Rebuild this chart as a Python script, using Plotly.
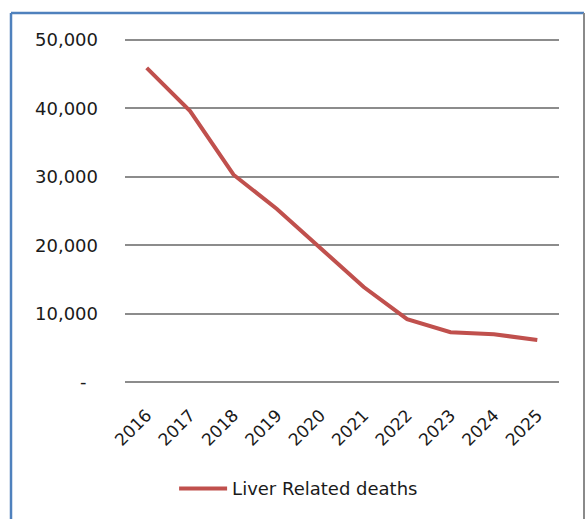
import plotly.graph_objects as go

# Projected liver related deaths per year
years = ["2016", "2017", "2018", "2019", "2020", "2021", "2022", "2023", "2024", "2025"]
deaths = [45900, 39600, 30300, 25300, 19600, 13900, 9200, 7300, 7000, 6150]

y_tick_vals = [0, 10000, 20000, 30000, 40000, 50000]
y_tick_text = ["-\u00a0\u00a0", "10,000", "20,000", "30,000", "40,000", "50,000"]

series_name = "Liver Related deaths"
line_color = "#C0504D"
grid_color = "#8C8C8C"
font_family = "DejaVu Sans"

fig = go.Figure()
fig.add_trace(go.Scatter(
    x=years, y=deaths, mode="lines", name=series_name,
    line=dict(color=line_color, width=4),
))

# plot area padded by 1,000 on each side so the 0 and 50,000 grid lines show
plot_top, plot_bottom = 33, 130

fig.update_layout(
    width=588, height=519,
    margin=dict(l=125, r=29, t=plot_top, b=plot_bottom),
    paper_bgcolor="white", plot_bgcolor="white",
    font=dict(family=font_family, size=18, color="#1a1a1a"),
    showlegend=True,
    legend=dict(
        orientation="h", x=0.40, xanchor="center", y=-0.28, yanchor="middle",
        font=dict(family=font_family, size=18, color="#1a1a1a"),
        itemwidth=48,
    ),
    xaxis=dict(
        type="category", range=[-0.5, 9.5], tickangle=-45,
        showgrid=False, showline=False, ticks="", tickfont=dict(size=17),
        ticklabelstandoff=12,
    ),
    yaxis=dict(
        range=[-1000, 51000], tickvals=y_tick_vals, ticktext=y_tick_text,
        showgrid=True, gridcolor=grid_color, gridwidth=1.5,
        zeroline=False, showline=False, ticks="", ticklabelstandoff=26,
    ),
)

# chart frame, in pixel terms converted to paper coordinates
plot_w = 588 - 125 - 29
plot_h = 519 - plot_top - plot_bottom
def px_x(px):
    return (px - 125) / plot_w
def px_y(py):
    return (519 - plot_bottom - py) / plot_h

left, right, top, bottom = 11, 584, 13, 525
fig.add_shape(type="line", xref="paper", yref="paper",
              x0=px_x(left), x1=px_x(left), y0=px_y(top), y1=px_y(bottom),
              line=dict(color="#4F81BD", width=2.5))
fig.add_shape(type="line", xref="paper", yref="paper",
              x0=px_x(left), x1=px_x(right), y0=px_y(top), y1=px_y(top),
              line=dict(color="#4F81BD", width=2.5))
fig.add_shape(type="line", xref="paper", yref="paper",
              x0=px_x(right), x1=px_x(right), y0=px_y(top), y1=px_y(bottom),
              line=dict(color="#8A8A8A", width=2))

fig.write_html("out.html")
